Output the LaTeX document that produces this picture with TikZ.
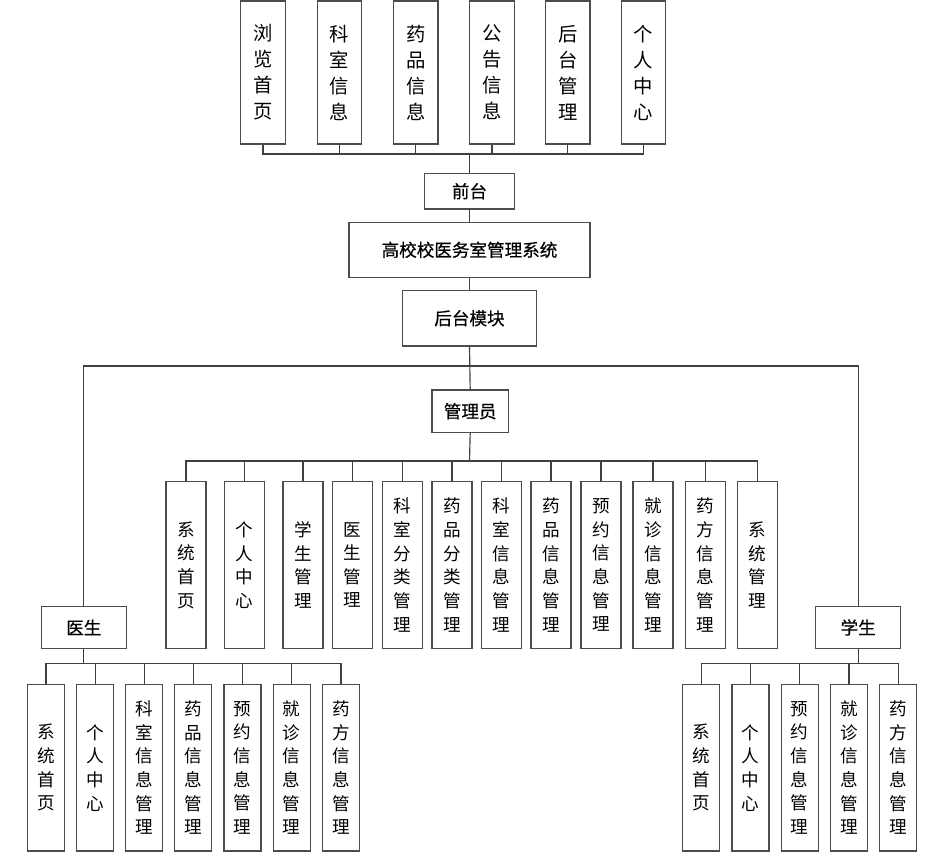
\documentclass[tikz,border=0pt]{standalone}
\usepackage{fontspec}
\setmainfont{Noto Sans CJK SC}
\newfontfamily\labelfont[FakeBold=0.6]{Noto Sans CJK SC}
\usepackage{tikz}

\begin{document}
\begin{tikzpicture}[x=0.03cm,y=-0.03cm]
      \useasboundingbox (0,0) rectangle (940,864);
      \tikzstyle {box} = [shape=rectangle, draw=black!70, line width=1.1pt, fill=white, inner sep=0pt, align=center];
      \tikzstyle {label} = [box, font=\labelfont\fontsize{15}{16}\selectfont];
      \tikzstyle {topcell} = [box, minimum width=1.335cm, minimum height=4.29cm, font=\fontsize{16.5}{22.2}\selectfont];
      \tikzstyle {admincell} = [box, minimum width=1.2cm, minimum height=5cm, font=\fontsize{15}{20.2}\selectfont];
      \tikzstyle {usercell} = [box, minimum width=1.11cm, minimum height=5cm, font=\fontsize{15}{20.2}\selectfont];
      \tikzstyle {link} = [draw=black!75, line width=1pt];

      \node (t1) [topcell] at (263,72.5) {浏\\览\\首\\页};
      \node (t2) [topcell] at (339.5,72.5) {科\\室\\信\\息};
      \node (t3) [topcell] at (415.8,72.5) {药\\品\\信\\息};
      \node (t4) [topcell] at (492,72.5) {公\\告\\信\\息};
      \node (t5) [topcell] at (567.8,72.5) {后\\台\\管\\理};
      \node (t6) [topcell] at (643.5,72.5) {个\\人\\中\\心};
      \node (qt) [label, minimum width=2.69cm, minimum height=1.07cm] at (469.5,191.2) {前台};
      \node (xt) [label, minimum width=7.23cm, minimum height=1.65cm] at (469.5,249.8) {高校校医务室管理系统};
      \node (ht) [label, minimum width=4cm, minimum height=1.66cm] at (469.5,318.3) {后台模块};
      \node (gly) [label, minimum width=2.29cm, minimum height=1.27cm] at (470.2,411.2) {管理员};
      \node (ys) [label, minimum width=2.55cm, minimum height=1.25cm] at (83.8,627.5) {医生};
      \node (xs) [label, minimum width=2.55cm, minimum height=1.25cm] at (858.2,627.5) {学生};

      \node (a1) [admincell] at (186,565) {系\\统\\首\\页};
      \node (a2) [admincell] at (244.3,565) {个\\人\\中\\心};
      \node (a3) [admincell] at (303,565) {学\\生\\管\\理};
      \node (a4) [admincell] at (352.5,565) {医\\生\\管\\理};
      \node (a5) [admincell] at (402.3,565) {科\\室\\分\\类\\管\\理};
      \node (a6) [admincell] at (452,565) {药\\品\\分\\类\\管\\理};
      \node (a7) [admincell] at (501.5,565) {科\\室\\信\\息\\管\\理};
      \node (a8) [admincell] at (551,565) {药\\品\\信\\息\\管\\理};
      \node (a9) [admincell] at (601,565) {预\\约\\信\\息\\管\\理};
      \node (a10) [admincell] at (653,565) {就\\诊\\信\\息\\管\\理};
      \node (a11) [admincell] at (705.3,565) {药\\方\\信\\息\\管\\理};
      \node (a12) [admincell] at (757.3,565) {系\\统\\管\\理};

      \node (d1) [usercell] at (46,767.7) {系\\统\\首\\页};
      \node (d2) [usercell] at (95.2,767.7) {个\\人\\中\\心};
      \node (d3) [usercell] at (144.2,767.7) {科\\室\\信\\息\\管\\理};
      \node (d4) [usercell] at (193.3,767.7) {药\\品\\信\\息\\管\\理};
      \node (d5) [usercell] at (242.5,767.7) {预\\约\\信\\息\\管\\理};
      \node (d6) [usercell] at (291.7,767.7) {就\\诊\\信\\息\\管\\理};
      \node (d7) [usercell] at (341,767.7) {药\\方\\信\\息\\管\\理};

      \node (s1) [usercell] at (701.3,767.7) {系\\统\\首\\页};
      \node (s2) [usercell] at (750.5,767.7) {个\\人\\中\\心};
      \node (s3) [usercell] at (799.7,767.7) {预\\约\\信\\息\\管\\理};
      \node (s4) [usercell] at (849,767.7) {就\\诊\\信\\息\\管\\理};
      \node (s5) [usercell] at (898.2,767.7) {药\\方\\信\\息\\管\\理};

      \coordinate (tbus) at (469.5,154);
      \coordinate (hbus) at (469.5,366);
      \coordinate (abus) at (469.5,461);
      \coordinate (dbus) at (83.8,663.7);
      \coordinate (sbus) at (858.2,663.5);

      \foreach \n in {t1,t2,t3,t4,t5,t6} \draw [link] (\n.south) |- (tbus);
      \draw [link] (tbus) -- (qt.north);
      \draw [link] (qt.south) -- (xt.north);
      \draw [link] (xt.south) -- (ht.north);
      \draw [link] (ht.south) -- (gly.north);
      \draw [link] (ys.north) |- (hbus) -| (xs.north);
      \draw [link] (gly.south) -- (abus);
      \foreach \n in {a1,a2,a3,a4,a5,a6,a7,a8,a9,a10,a11,a12} \draw [link] (\n.north) |- (abus);
      \draw [link] (ys.south) -- (dbus);
      \foreach \n in {d1,d2,d3,d4,d5,d6,d7} \draw [link] (\n.north) |- (dbus);
      \draw [link] (xs.south) -- (sbus);
      \foreach \n in {s1,s2,s3,s4,s5} \draw [link] (\n.north) |- (sbus);
\end{tikzpicture}
\end{document}
